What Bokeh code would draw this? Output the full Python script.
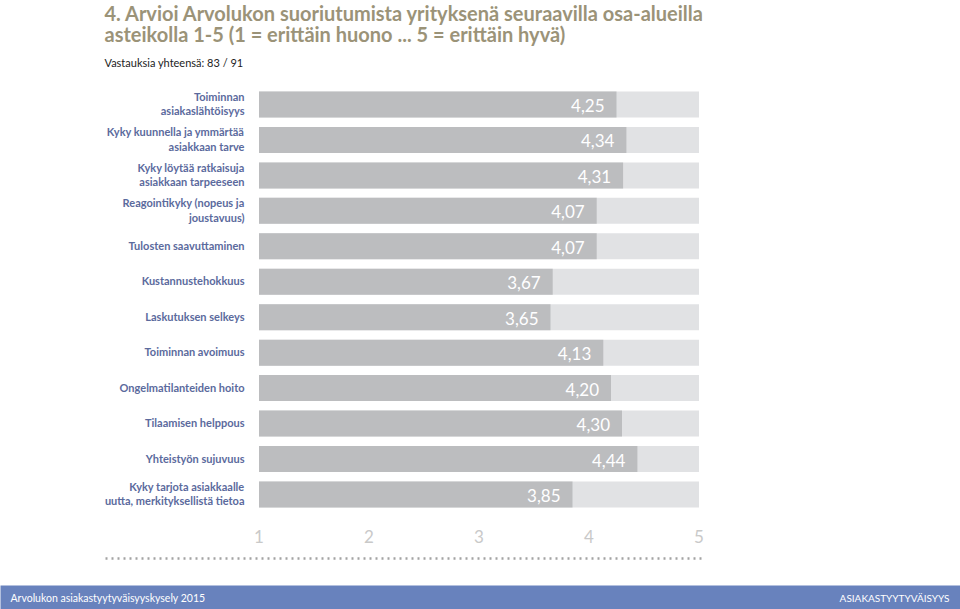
from bokeh.plotting import figure
from bokeh.models import Range1d, ColumnDataSource
from bokeh.core.properties import value
from bokeh.embed import file_html
from bokeh.resources import INLINE

# ---- data ----
categories = [
    "Toiminnan\nasiakaslähtöisyys",
    "Kyky kuunnella ja ymmärtää\nasiakkaan tarve",
    "Kyky löytää ratkaisuja\nasiakkaan tarpeeseen",
    "Reagointikyky (nopeus ja\njoustavuus)",
    "Tulosten saavuttaminen",
    "Kustannustehokkuus",
    "Laskutuksen selkeys",
    "Toiminnan avoimuus",
    "Ongelmatilanteiden hoito",
    "Tilaamisen helppous",
    "Yhteistyön sujuvuus",
    "Kyky tarjota asiakkaalle\nuutta, merkityksellistä tietoa",
]
scores = [4.25, 4.34, 4.31, 4.07, 4.07, 3.67, 3.65, 4.13, 4.20, 4.30, 4.44, 3.85]
scale_min = 1
scale_max = 5
tick_values = [1, 2, 3, 4, 5]
tick_labels = ["1", "2", "3", "4", "5"]
title_lines = ["4. Arvioi Arvolukon suoriutumista yrityksenä seuraavilla osa-alueilla",
               " asteikolla 1-5 (1 = erittäin huono ... 5 = erittäin hyvä)"]
subtitle = "Vastauksia yhteensä: 83 / 91"
footer_left = "Arvolukon asiakastyytyväisyyskysely 2015"
footer_right = "ASIAKASTYYTYVÄISYYS"

# ---- layout helpers (canvas pixel -> data) ----
W, H = 960, 609
X0_PX, UNIT_PX = 258.5, 110.0      # px of value 1, px per unit
ROW0_PX, ROW_PX = 104.0, 35.45     # px of first row center, px per row

def px2x(px):
    return scale_min + (px - X0_PX) / UNIT_PX

def py2y(py):
    return (py - ROW0_PX) / ROW_PX

x_start, x_end = px2x(0), px2x(W)
y_top, y_bot = py2y(0), py2y(H)

p = figure(width=W, height=H, output_backend="svg", toolbar_location=None,
           x_range=Range1d(x_start, x_end), y_range=Range1d(y_bot, y_top),
           min_border=0, outline_line_color=None, background_fill_color="white",
           border_fill_color="white")
p.axis.visible = False
p.grid.visible = False

rows = list(range(len(categories)))
labels = [f"{v:.2f}".replace(".", ",") for v in scores]
src = ColumnDataSource(dict(y=rows, score=scores, cat=categories, lab=labels,
                            start=[scale_min] * len(rows), end=[scale_max] * len(rows)))

BAR_H = 26 / ROW_PX
p.hbar(y="y", left="start", right="end", height=BAR_H, source=src,
       fill_color="#e1e2e4", line_color=None)
p.hbar(y="y", left="start", right="score", height=BAR_H, source=src,
       fill_color="#bcbdbf", line_color=None)

# value labels inside bars (offset in screen px)
p.text(x="score", y="y", text="lab", source=src, x_offset=-12, y_offset=1,
       text_align="right", text_baseline="middle", text_color="white",
       text_font=value("Lato"), text_font_size="17px")

# category labels
p.text(x=px2x(244), y="y", text="cat", source=src, y_offset=-1,
       text_align="right", text_baseline="middle", text_color="#5b6a9d",
       text_font=value("Lato"), text_font_style="bold", text_font_size="11px",
       text_line_height=1.12)

# tick labels
p.text(x=tick_values, y=[py2y(536)] * len(tick_values), text=tick_labels,
       text_align="center", text_baseline="middle", text_color="#c9c9c9",
       text_font=value("Lato"), text_font_size="17px")

# dotted rule
p.line(x=[px2x(105), px2x(702)], y=[py2y(558)] * 2, line_color="#a3a3a3",
       line_width=2.5, line_dash="2 4")

# title and subtitle
p.text(x=[px2x(104), px2x(104)], y=[py2y(12), py2y(33)], text=title_lines,
       text_align="left", text_baseline="middle", text_color="#9b9378",
       text_font=value("Lato"), text_font_style="bold",
       text_font_size="20px")
p.text(x=[px2x(104)], y=[py2y(62)], text=[subtitle],
       text_align="left", text_baseline="middle", text_color="#222222",
       text_font=value("Lato"), text_font_size="11px")

# footer band
p.quad(left=[x_start - 1], right=[x_end + 1], top=[py2y(585)], bottom=[y_bot + 1],
       fill_color="#6882bd", line_color=None)
p.text(x=[px2x(10)], y=[py2y(597)], text=[footer_left], text_align="left",
       text_baseline="middle", text_color="white",
       text_font=value("Lato"), text_font_size="10.5px")
p.text(x=[px2x(949)], y=[py2y(597)], text=[footer_right], text_align="right",
       text_baseline="middle", text_color="white",
       text_font=value("Lato"), text_font_size="10px")

open("out.html", "w").write(file_html(p, INLINE))
